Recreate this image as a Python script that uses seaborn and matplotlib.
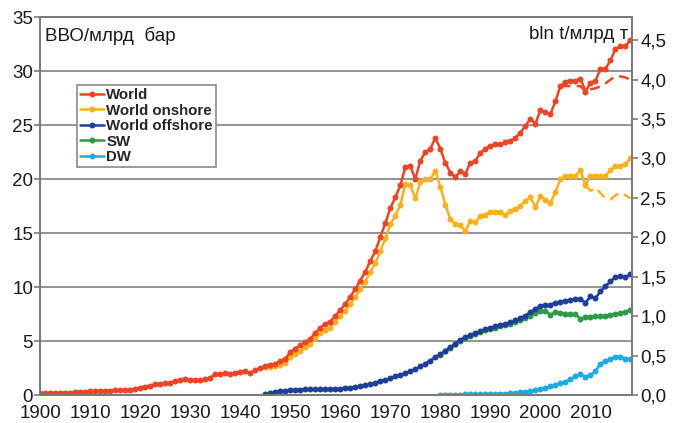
import numpy as np
import pandas as pd
import matplotlib.pyplot as plt
import matplotlib.ticker as mticker
import seaborn as sns

# values (billion barrels per year)
years = list(range(1900, 2019))
world = [0.15, 0.17, 0.18, 0.19, 0.22, 0.22, 0.21, 0.26, 0.29, 0.30,
         0.33, 0.34, 0.35, 0.39, 0.40, 0.43, 0.46, 0.50, 0.50, 0.56,
         0.69, 0.77, 0.86, 1.00, 1.01, 1.07, 1.10, 1.26, 1.36, 1.49,
         1.40, 1.37, 1.35, 1.44, 1.58, 1.95, 1.95, 2.00, 1.95, 2.05,
         2.15, 2.20, 2.05, 2.30, 2.50, 2.65, 2.75, 2.90, 3.15, 3.35,
         3.95, 4.30, 4.60, 4.90, 5.20, 5.75, 6.20, 6.60, 6.80, 7.30,
         7.90, 8.40, 9.10, 9.80, 10.60, 11.40, 12.40, 13.30, 14.60, 15.90,
         17.30, 18.30, 19.40, 21.10, 21.20, 20.00, 21.70, 22.50, 22.80, 23.80,
         22.80, 21.50, 20.60, 20.20, 20.70, 20.50, 21.50, 21.70, 22.40, 22.80,
         23.10, 23.20, 23.20, 23.40, 23.50, 23.80, 24.30, 24.90, 25.60, 25.10,
         26.40, 26.20, 26.00, 27.20, 28.60, 29.00, 29.10, 29.10, 29.30, 28.10,
         28.90, 29.10, 30.20, 30.20, 31.00, 32.00, 32.30, 32.30, 32.90]

years_world_alt = list(range(2004, 2019))
world_alt = [28.6, 28.6, 28.6, 28.6, 28.6, 28.1, 28.3, 28.4, 28.6, 28.85,
             29.2, 29.5, 29.5, 29.4, 29.2]

years_on = list(range(1945, 2019))
onshore = [2.60, 2.60, 2.65, 2.80, 2.95, 3.50, 3.80, 4.10, 4.40, 4.70,
           5.25, 5.70, 6.05, 6.25, 6.75, 7.35, 7.75, 8.40, 9.05, 9.80,
           10.50, 11.40, 12.20, 13.30, 14.50, 15.80, 16.60, 17.60, 19.50, 19.40,
           18.20, 19.70, 20.00, 20.00, 20.75, 19.30, 17.60, 16.30, 15.80, 15.70,
           15.20, 16.10, 16.00, 16.60, 16.70, 16.95, 16.95, 16.90, 16.70, 17.05,
           17.20, 17.50, 18.00, 18.30, 17.40, 18.40, 18.10, 17.80, 18.80, 20.00,
           20.30, 20.30, 20.30, 20.80, 19.40, 20.30, 20.30, 20.30, 20.30, 20.80,
           21.20, 21.20, 21.40, 21.90]

years_on_alt = list(range(2008, 2019))
onshore_alt = [20.8, 19.4, 18.9, 19.2, 18.7, 18.2, 18.1, 18.5, 18.7, 18.5, 18.2]

years_off = list(range(1945, 2019))
offshore = [0.06, 0.15, 0.25, 0.34, 0.40, 0.46, 0.48, 0.50, 0.51, 0.52,
            0.53, 0.53, 0.54, 0.55, 0.56, 0.58, 0.64, 0.67, 0.74, 0.80,
            0.89, 1.00, 1.13, 1.29, 1.41, 1.53, 1.72, 1.84, 2.02, 2.20,
            2.39, 2.64, 2.91, 3.19, 3.50, 3.77, 4.08, 4.42, 4.75, 5.09,
            5.37, 5.55, 5.74, 5.92, 6.07, 6.23, 6.35, 6.47, 6.60, 6.72,
            6.90, 7.12, 7.36, 7.67, 7.98, 8.22, 8.31, 8.37, 8.53, 8.65,
            8.74, 8.80, 8.87, 8.90, 8.53, 9.14, 8.96, 9.60, 10.06, 10.52,
            10.92, 10.98, 10.92, 11.17]

years_deep = list(range(1980, 2019))
shallow = [3.75, 4.05, 4.38, 4.70, 5.03, 5.30, 5.50, 5.68, 5.85, 6.00,
           6.15, 6.25, 6.35, 6.45, 6.55, 6.75, 6.90, 7.15, 7.36, 7.60,
           7.80, 7.76, 7.45, 7.67, 7.60, 7.52, 7.48, 7.48, 7.06, 7.24,
           7.24, 7.27, 7.30, 7.36, 7.45, 7.48, 7.55, 7.67, 7.91]
deep = [0.02, 0.03, 0.03, 0.04, 0.04, 0.05, 0.05, 0.06, 0.06, 0.07,
        0.08, 0.09, 0.10, 0.12, 0.15, 0.18, 0.24, 0.30, 0.38, 0.45,
        0.55, 0.68, 0.80, 0.95, 1.10, 1.23, 1.45, 1.72, 1.93, 1.68,
        1.85, 2.20, 2.90, 3.15, 3.35, 3.55, 3.55, 3.30, 3.37]

BBL_PER_T = 7.3

sns.set_style("white")
plt.rcParams['font.family'] = ['Liberation Sans', 'DejaVu Sans']

fig = plt.figure(figsize=(6.76, 4.23), dpi=100)
ax = fig.add_axes([40/676, 28/423, 592/676, 378/423])

c_world = '#ec4424'
c_on = '#fbb01c'
c_off = '#1d3f9a'
c_sw = '#2c9b47'
c_dw = '#1eaae2'

mk = dict(marker='o', markersize=4.3, markeredgewidth=0, linewidth=1.8)

sns.lineplot(x=years_deep, y=deep, color=c_dw, label='DW', ax=ax, zorder=3, **mk)
sns.lineplot(x=years_deep, y=shallow, color=c_sw, label='SW', ax=ax, zorder=4, **mk)
sns.lineplot(x=years_off, y=offshore, color=c_off, label='World offshore', ax=ax, zorder=5, **mk)
sns.lineplot(x=years_on_alt, y=onshore_alt, color=c_on, linestyle=(0, (4, 2.5)),
             linewidth=1.8, ax=ax, zorder=5)
sns.lineplot(x=years_on, y=onshore, color=c_on, label='World onshore', ax=ax, zorder=6, **mk)
sns.lineplot(x=years_world_alt, y=world_alt, color=c_world, linestyle=(0, (4, 2.5)),
             linewidth=1.8, ax=ax, zorder=6)
sns.lineplot(x=years, y=world, color=c_world, label='World', ax=ax, zorder=7, **mk)

ax.set_xlim(1900, 2018.3)
ax.set_ylim(0, 35)
ax.set_yticks(range(0, 36, 5))
ax.xaxis.set_major_locator(mticker.MultipleLocator(10))
ax.xaxis.set_minor_locator(mticker.MultipleLocator(5))
ax.set_xticks(range(1900, 2011, 10))
ax.grid(axis='y', color='#8a8a8a', linewidth=1.3)
ax.set_axisbelow(True)
for s in ax.spines.values():
    s.set_color('#7a7a7a')
    s.set_linewidth(1.3)
ax.tick_params(axis='both', which='both', direction='out', length=4, width=1.2,
               color='#7a7a7a', labelsize=13.5, labelcolor='#1a1a1a', pad=1)
ax.tick_params(axis='x', which='both', pad=3)
ax.set_xlabel('')
ax.set_ylabel('')

ax2 = ax.twinx()
ax2.set_ylim(0, 35 / BBL_PER_T)
ax2.set_yticks(np.arange(0, 4.51, 0.5))
ax2.yaxis.set_major_formatter(mticker.FuncFormatter(lambda v, p: f'{v:.1f}'.replace('.', ',')))
for s in ax2.spines.values():
    s.set_color('#7a7a7a')
    s.set_linewidth(1.3)
ax2.tick_params(axis='y', direction='out', length=4, width=1.2, color='#7a7a7a',
                labelsize=13.5, labelcolor='#1a1a1a', pad=2)
ax2.grid(False)

ax.text(0.008, 0.975, 'ВВО/млрд  бар', transform=ax.transAxes, ha='left', va='top',
        fontsize=13.5, color='#1a1a1a')
ax.text(0.994, 0.975, 'bln t/млрд т', transform=ax.transAxes, ha='right', va='top',
        fontsize=13.5, color='#1a1a1a')

handles, labels = ax.get_legend_handles_labels()
order = ['World', 'World onshore', 'World offshore', 'SW', 'DW']
hmap = dict(zip(labels, handles))
leg = ax.legend([hmap[k] for k in order], order, loc='upper left',
                bbox_to_anchor=(0.0625, 0.82), borderaxespad=0, frameon=True,
                fancybox=False, edgecolor='#8a8a8a', framealpha=1,
                prop={'weight': 'bold', 'size': 10.8}, handlelength=1.6,
                handletextpad=0.15, labelspacing=0.1, borderpad=0.2)
leg.get_frame().set_linewidth(1.2)
leg.set_zorder(10)

fig.savefig('out.png', dpi=100)
